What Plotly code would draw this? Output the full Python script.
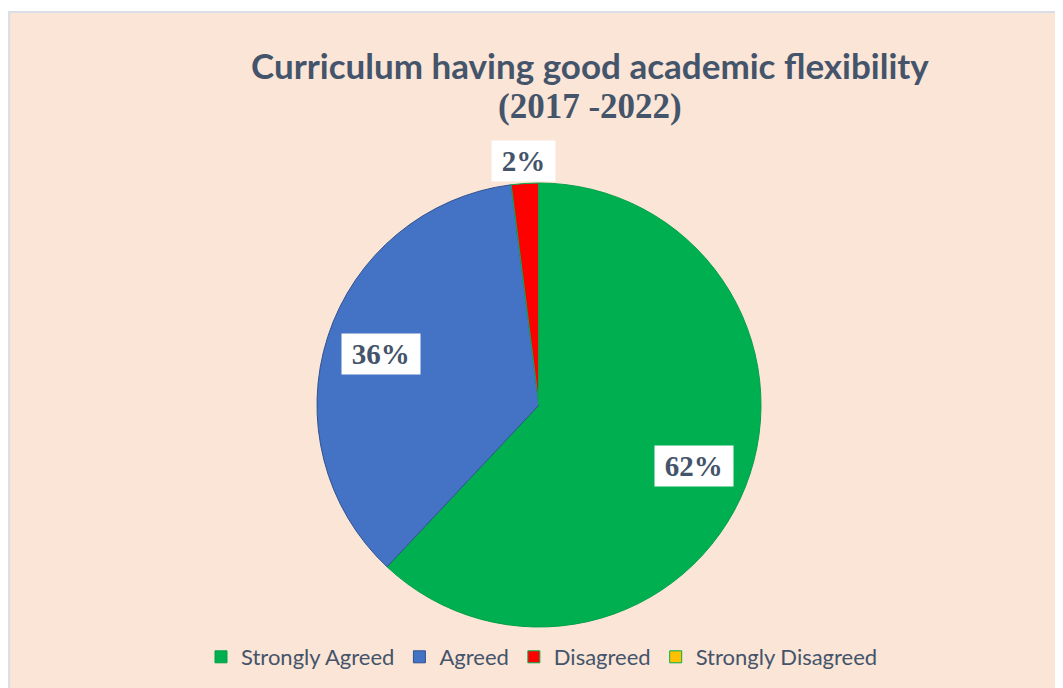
import math
import plotly.graph_objects as go

# ---------------- data ----------------
categories = ["Strongly Agreed", "Agreed", "Disagreed", "Strongly Disagreed"]
percent = [62, 36, 2, 0]
slice_colors = ["#00B050", "#4472C4", "#FF0000", "#FFC000"]
edge_colors = ["#00A048", "#2F528F", "#00B050", "#00B050"]

W, H = 1063, 688
TEXT = "#44546A"
OFF = 8  # page body margin

# pie placement (pixels, page coords)
cx, cy, R = 539 - OFF, 405 - OFF, 222

fig = go.Figure()

fig.add_trace(
    go.Pie(
        labels=categories,
        values=percent,
        sort=False,
        direction="clockwise",
        rotation=0,
        textinfo="none",
        hoverinfo="label+percent",
        marker=dict(colors=slice_colors, line=dict(color=edge_colors, width=1)),
        domain=dict(x=[(cx - R) / W, (cx + R) / W], y=[1 - (cy + R) / H, 1 - (cy - R) / H]),
    )
)

# percentage labels in white boxes, placed from the slice angles
total = sum(percent)
start = 0.0
for cat, v in zip(categories, percent):
    if v == 0:
        continue
    ang = 360.0 * v / total
    mid = math.radians(start + ang / 2)
    start += ang
    r = 0.75 * R if v > 5 else 1.1 * R
    px_ = cx + r * math.sin(mid)
    py_ = cy - r * math.cos(mid)
    fig.add_annotation(
        x=px_ / W, y=1 - py_ / H, xref="paper", yref="paper",
        xanchor="center", yanchor="middle",
        text=f"\u2009{round(100 * v / total)}%\u2009",
        showarrow=False,
        font=dict(family="Liberation Serif", size=29, color=TEXT, weight="bold"),
        bgcolor="white", borderpad=4,
    )

# chart frame
fig.add_shape(
    type="rect", xref="paper", yref="paper", layer="below",
    x0=(8 - OFF) / W + 0.001, x1=1.05, y0=-0.05, y1=1 - (12 - OFF) / H,
    fillcolor="#FBE5D6", line=dict(color="#D9DEE6", width=2),
)

# title + subtitle
fig.add_annotation(
    x=(590 - OFF) / W, y=1 - (65 - OFF) / H, xref="paper", yref="paper", showarrow=False,
    xanchor="center", yanchor="middle",
    text="<b>Curriculum having good academic flexibility</b>",
    font=dict(family="Lato", size=35, color=TEXT),
)
fig.add_annotation(
    x=(590 - OFF) / W, y=1 - (106 - OFF) / H, xref="paper", yref="paper", showarrow=False,
    xanchor="center", yanchor="middle",
    text="<b>(2017 -2022)</b>",
    font=dict(family="Liberation Serif", size=35, color=TEXT),
)

fig.update_layout(
    width=W, height=H,
    margin=dict(l=0, r=0, t=0, b=0),
    paper_bgcolor="white",
    showlegend=True,
    legend=dict(
        orientation="h", x=(542 - OFF) / W, xanchor="center", y=1 - (657 - OFF) / H, yanchor="middle",
        font=dict(family="Lato", size=22, color=TEXT),
        bgcolor="rgba(0,0,0,0)", itemclick=False,
    ),
)

fig.write_html("out.html")
